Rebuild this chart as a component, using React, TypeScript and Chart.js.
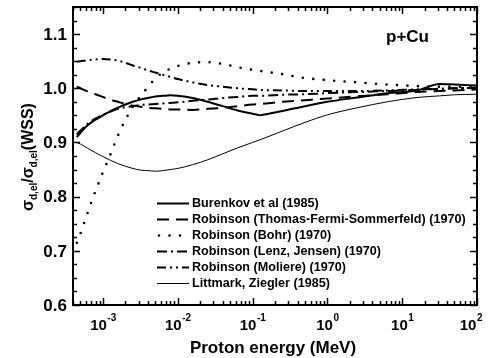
import React, { useEffect, useRef } from "react";
import { Chart, registerables } from "chart.js";

Chart.register(...registerables);

// Proton energy grid (MeV)
const energy = [
  4.47e-4, 5.01e-4, 6.31e-4, 7.94e-4, 1.0e-3, 1.26e-3, 1.58e-3, 2.0e-3, 2.51e-3, 3.16e-3,
  3.98e-3, 5.01e-3, 6.31e-3, 7.94e-3, 1.0e-2, 1.58e-2, 2.51e-2, 3.98e-2, 6.31e-2, 0.1,
  0.126, 0.251, 0.501, 1.0, 2.51, 6.31, 15.8, 31.6, 50.1, 100,
];

const burenkov = [
  0.910, 0.918, 0.932, 0.942, 0.950, 0.958, 0.964, 0.970, 0.975, 0.979,
  0.982, 0.985, 0.986, 0.987, 0.986, 0.982, 0.975, 0.967, 0.959, 0.953,
  0.950, 0.958, 0.967, 0.975, 0.983, 0.991, 0.996, 1.008, 1.007, 1.005,
];
const robinsonTFS = [
  1.003, 1.000, 0.994, 0.989, 0.984, 0.979, 0.975, 0.971, 0.968, 0.966,
  0.964, 0.963, 0.962, 0.961, 0.961, 0.960, 0.962, 0.964, 0.967, 0.970,
  0.971, 0.975, 0.978, 0.981, 0.985, 0.989, 0.993, 0.995, 0.996, 0.998,
];
const robinsonBohr = [
  0.715, 0.732, 0.772, 0.810, 0.845, 0.878, 0.912, 0.942, 0.966, 0.985,
  1.002, 1.018, 1.029, 1.036, 1.041, 1.047, 1.048, 1.045, 1.039, 1.034,
  1.032, 1.026, 1.019, 1.015, 1.011, 1.007, 1.004, 1.003, 1.003, 1.002,
];
const robinsonLJ = [
  0.915, 0.922, 0.935, 0.944, 0.951, 0.957, 0.962, 0.965, 0.967, 0.969,
  0.970, 0.971, 0.972, 0.973, 0.974, 0.977, 0.979, 0.982, 0.984, 0.986,
  0.986, 0.988, 0.989, 0.991, 0.993, 0.995, 0.997, 0.999, 1.000, 1.001,
];
const robinsonMoliere = [
  1.049, 1.050, 1.052, 1.053, 1.054, 1.053, 1.051, 1.047, 1.042, 1.038,
  1.033, 1.029, 1.025, 1.021, 1.017, 1.011, 1.006, 1.003, 1.000, 0.998,
  0.997, 0.996, 0.995, 0.995, 0.995, 0.996, 0.998, 0.999, 1.000, 1.001,
];
const littmark = [
  0.900, 0.897, 0.889, 0.881, 0.874, 0.867, 0.861, 0.856, 0.852, 0.849,
  0.848, 0.847, 0.848, 0.850, 0.852, 0.859, 0.868, 0.879, 0.890, 0.900,
  0.905, 0.921, 0.937, 0.951, 0.964, 0.975, 0.983, 0.986, 0.988, 0.989,
];
const burenkovKinkIndex = 20;

const seriesLabels = [
  "Burenkov et al (1985)",
  "Robinson (Thomas-Fermi-Sommerfeld) (1970)",
  "Robinson (Bohr) (1970)",
  "Robinson (Lenz, Jensen) (1970)",
  "Robinson (Moliere) (1970)",
  "Littmark, Ziegler (1985)",
];
const xTickExponents = [-3, -2, -1, 0, 1, 2];
const yTickValues = [0.6, 0.7, 0.8, 0.9, 1.0, 1.1];
const yTickLabels = ["0.6", "0.7", "0.8", "0.9", "1.0", "1.1"];
const xMin = 3.98e-4;
const xMax = 100;
const yMin = 0.6;
const yMax = 1.15;

const FONT = "'Liberation Sans', Arial, Helvetica, sans-serif";

const styles = [
  { width: 2, dash: [] as number[], cap: "butt" },
  { width: 2, dash: [12, 7], cap: "butt" },
  { width: 2.6, dash: [0, 10.5], cap: "round" },
  { width: 2, dash: [10, 4, 2, 4], cap: "butt" },
  { width: 2, dash: [9, 4, 2, 4, 2, 4], cap: "butt" },
  { width: 1, dash: [] as number[], cap: "butt" },
];

function pts(vals: number[], from = 0, to = vals.length) {
  const out: { x: number; y: number }[] = [];
  for (let i = from; i < to; i++) out.push({ x: energy[i], y: vals[i] });
  return out;
}

function ds(data: any, s: any) {
  return {
    data,
    showLine: true,
    borderColor: "#000",
    backgroundColor: "#000",
    borderWidth: s.width,
    borderDash: s.dash,
    borderCapStyle: s.cap,
    pointRadius: 0,
    cubicInterpolationMode: "monotone",
    fill: false,
  };
}

const decorPlugin = {
  id: "decor",
  afterDraw(chart: any) {
    const { ctx, chartArea: a, scales } = chart;
    const xs = scales.x;
    const ys = scales.y;
    ctx.save();
    ctx.strokeStyle = "#000";
    ctx.fillStyle = "#000";

    // frame
    ctx.lineWidth = 2;
    ctx.strokeRect(a.left, a.top, a.right - a.left, a.bottom - a.top);

    // x ticks (log)
    ctx.lineWidth = 1.5;
    for (let d = -4; d <= 2; d++) {
      for (let m = 1; m <= 9; m++) {
        const v = m * Math.pow(10, d);
        if (v < xMin * 0.999 || v > xMax * 1.001) continue;
        const px = Math.round(xs.getPixelForValue(v)) + 0.5;
        const len = m === 1 ? 7 : 4;
        ctx.beginPath();
        ctx.moveTo(px, a.bottom);
        ctx.lineTo(px, a.bottom - len);
        ctx.moveTo(px, a.top);
        ctx.lineTo(px, a.top + len);
        ctx.stroke();
      }
    }
    // y ticks
    for (let i = 0; i <= 22; i++) {
      const v = yMin + i * 0.025;
      if (v > yMax + 1e-6) continue;
      const py = Math.round(ys.getPixelForValue(v)) + 0.5;
      const len = i % 4 === 0 ? 7 : 4;
      ctx.beginPath();
      ctx.moveTo(a.left, py);
      ctx.lineTo(a.left + len, py);
      ctx.moveTo(a.right, py);
      ctx.lineTo(a.right - len, py);
      ctx.stroke();
    }

    // y tick labels
    ctx.font = `bold 17px ${FONT}`;
    ctx.textAlign = "right";
    ctx.textBaseline = "middle";
    yTickValues.forEach((v, i) => {
      ctx.fillText(yTickLabels[i], a.left - 6, ys.getPixelForValue(v) + 1);
    });

    // x tick labels 10^n
    ctx.textAlign = "left";
    ctx.textBaseline = "alphabetic";
    xTickExponents.forEach((e) => {
      const px = xs.getPixelForValue(Math.pow(10, e));
      ctx.font = `bold 15px ${FONT}`;
      const wBase = ctx.measureText("10").width;
      ctx.font = `bold 10px ${FONT}`;
      const sup = String(e);
      const wSup = ctx.measureText(sup).width;
      let left = px - (wBase + wSup) / 2;
      if (left + wBase + wSup > 482) left = 482 - wBase - wSup;
      ctx.font = `bold 15px ${FONT}`;
      ctx.fillText("10", left, 329.5);
      ctx.font = `bold 10px ${FONT}`;
      ctx.fillText(sup, left + wBase + 0.5, 321);
    });

    // x axis title
    ctx.font = `bold 17px ${FONT}`;
    ctx.textAlign = "center";
    ctx.textBaseline = "alphabetic";
    ctx.fillText("Proton energy (MeV)", 273, 353);

    // y axis title (rotated)
    const parts = [
      { t: "σ", f: 16, dy: 0 },
      { t: "d,el", f: 10, dy: 4 },
      { t: "/", f: 16, dy: 0 },
      { t: "σ", f: 16, dy: 0 },
      { t: "d,el", f: 10, dy: 4 },
      { t: "(WSS)", f: 16, dy: 0 },
    ];
    let total = 0;
    const widths = parts.map((p) => {
      ctx.font = `bold ${p.f}px ${FONT}`;
      const w = ctx.measureText(p.t).width;
      total += w;
      return w;
    });
    ctx.save();
    ctx.translate(33, 157);
    ctx.rotate(-Math.PI / 2);
    ctx.textAlign = "left";
    let cx = -total / 2;
    parts.forEach((p, i) => {
      ctx.font = `bold ${p.f}px ${FONT}`;
      ctx.fillText(p.t, cx, p.dy);
      cx += widths[i];
    });
    ctx.restore();

    // p+Cu
    ctx.font = `bold 17px ${FONT}`;
    ctx.textAlign = "left";
    ctx.fillText("p+Cu", 386, 42);

    // legend
    const rowY = [202.7, 218.8, 235, 251.1, 267.3, 283.4];
    ctx.font = `bold 12.6px ${FONT}`;
    ctx.textBaseline = "middle";
    seriesLabels.forEach((lab, i) => {
      const s = styles[i];
      const y = Math.round(rowY[i]) + 0.5;
      ctx.save();
      ctx.lineWidth = s.width;
      ctx.setLineDash(s.dash);
      ctx.lineCap = s.cap as CanvasLineCap;
      ctx.beginPath();
      ctx.moveTo(i === 2 ? 159 : 157, y);
      ctx.lineTo(189, y);
      ctx.stroke();
      ctx.restore();
      ctx.fillText(lab, 192, rowY[i] + 0.5);
    });

    ctx.restore();
  },
};

export default function App() {
  const ref = useRef<HTMLCanvasElement | null>(null);
  useEffect(() => {
    if (!ref.current) return;
    const chart = new Chart(ref.current, {
      type: "scatter",
      data: {
        datasets: [
          ds(pts(burenkov, 0, burenkovKinkIndex + 1), styles[0]),
          ds(pts(burenkov, burenkovKinkIndex), styles[0]),
          ds(pts(robinsonTFS), styles[1]),
          ds(pts(robinsonBohr), styles[2]),
          ds(pts(robinsonLJ), styles[3]),
          ds(pts(robinsonMoliere), styles[4]),
          ds(pts(littmark), styles[5]),
        ] as any,
      },
      options: {
        responsive: false,
        animation: false,
        layout: { padding: { left: 73, top: 7, right: 14, bottom: 53 } },
        plugins: { legend: { display: false }, tooltip: { enabled: false } },
        scales: {
          x: { type: "logarithmic", min: xMin, max: xMax, display: false },
          y: { type: "linear", min: yMin, max: yMax, display: false },
        },
      } as any,
      plugins: [decorPlugin],
    });
    return () => chart.destroy();
  }, []);
  return (
    <div style={{ position: "absolute", left: 0, top: 0, width: 491, height: 358, background: "#fff" }}>
      <canvas ref={ref} width={491} height={358} style={{ display: "block" }} />
    </div>
  );
}
